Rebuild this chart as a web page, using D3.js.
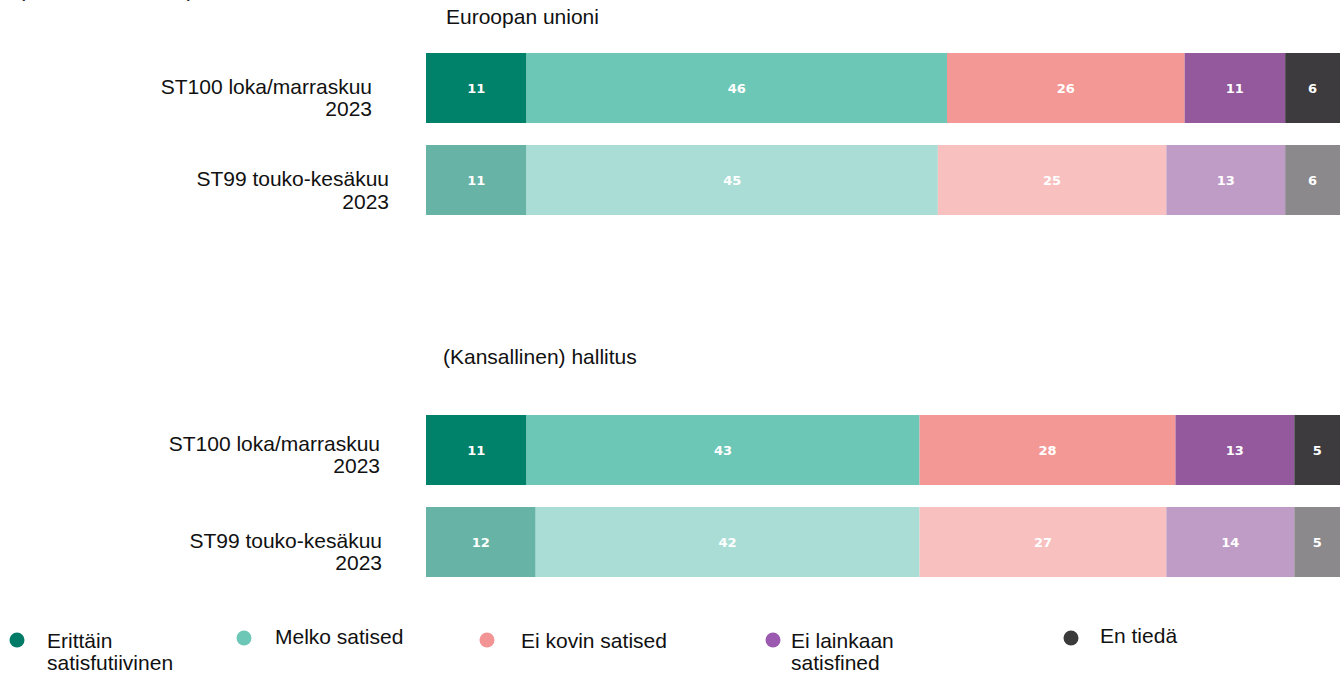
<!DOCTYPE html>
<html><head><meta charset="utf-8">
<script src="https://cdn.jsdelivr.net/npm/d3@7"></script>
<style>body{margin:0;background:#fff;overflow:hidden}svg{display:block}</style>
</head><body>
<script>
// ---- data ----
const categories = ["Erittäin satisfutiivinen","Melko satised","Ei kovin satised","Ei lainkaan satisfined","En tiedä"];
const panels = ["Euroopan unioni","(Kansallinen) hallitus"];
const rowLabels = ["ST100 loka/marraskuu 2023","ST99 touko-kesäkuu 2023"];
const euValues = [[11,46,26,11,6],[11,45,25,13,6]];
const govValues = [[11,43,28,13,5],[12,42,27,14,5]];
const colorsStrong = ["#00816A","#6CC7B6","#F49895","#93599C","#3D3B3E"];
const colorsFaded  = ["#67B3A5","#AADDD5","#F8C0BF","#BF9CC6","#8B898B"];
const legendColors = ["#007B68","#6CC7B6","#F29494","#9B59B0","#3A3A3A"];
const legendLines = [["Erittäin","satisfutiivinen"],["Melko satised"],["Ei kovin satised"],["Ei lainkaan","satisfined"],["En tiedä"]];

const W=1344,H=677;
const svg=d3.select("body").append("svg").attr("width",W).attr("height",H);
const x=d3.scaleLinear().domain([0,100]).range([426,1340]);
const fontMain="Liberation Sans, Arial, sans-serif";
const fs=21;

// title line cut off at the top edge (as in the reference)
svg.append("text").attr("x",18).attr("y",-3).attr("font-family",fontMain).attr("font-size",fs)
  .attr("textLength",176).attr("lengthAdjust","spacingAndGlyphs").attr("fill","#222").text("(% - EU27 - 2023)");

const panelCfg=[
  {title:panels[0],titleY:24,titleX:446,values:euValues,rowY:[53,145],labelEnd:[372,389],labelOff:[[41,63],[41,64]]},
  {title:panels[1],titleY:364,titleX:443,values:govValues,rowY:[415,507],labelEnd:[380,382],labelOff:[[36,58],[41,63]]}
];
const barH=70;

panelCfg.forEach(p=>{
  svg.append("text").attr("x",p.titleX).attr("y",p.titleY).attr("font-family",fontMain).attr("font-size",fs).attr("fill","#111").text(p.title);
  p.values.forEach((vals,ri)=>{
    const y0=p.rowY[ri];
    const cols= ri===0?colorsStrong:colorsFaded;
    let cum=0;
    const segs=vals.map((v,i)=>{const s={v,i,start:cum,end:cum+v};cum+=v;return s;});
    const g=svg.append("g");
    g.selectAll("rect").data(segs).join("rect")
      .attr("x",d=>x(d.start)).attr("y",y0).attr("width",d=>x(d.end)-x(d.start)).attr("height",barH)
      .attr("fill",d=>cols[d.i]);
    g.selectAll("text").data(segs).join("text")
      .attr("x",d=>(x(d.start)+x(d.end))/2).attr("y",y0+barH/2+5)
      .attr("text-anchor","middle").attr("font-family","DejaVu Sans, Verdana, sans-serif")
      .attr("font-weight","bold").attr("font-size",13).attr("fill","#fff").text(d=>d.v);
    const parts=[rowLabels[ri].replace(/ 2023$/,""),"2023"];
    parts.forEach((t,li)=>{
      svg.append("text").attr("x",p.labelEnd[ri]).attr("y",y0+p.labelOff[ri][li])
        .attr("text-anchor","end").attr("font-family",fontMain).attr("font-size",fs).attr("fill","#111").text(t);
    });
  });
});

// legend
const legX=[17,244,487,773,1071];
const legTextX=[47,275,521,791,1100];
const legCircleY=[640,638,640,640,638];
const legTextY=[648,644,648,648,643];
categories.forEach((c,i)=>{
  svg.append("circle").attr("cx",legX[i]).attr("cy",legCircleY[i]).attr("r",7.5).attr("fill",legendColors[i]);
  legendLines[i].forEach((t,li)=>{
    svg.append("text").attr("x",legTextX[i]).attr("y",legTextY[i]+li*22)
      .attr("font-family",fontMain).attr("font-size",fs).attr("fill","#111").text(t);
  });
});
</script>
</body></html>
